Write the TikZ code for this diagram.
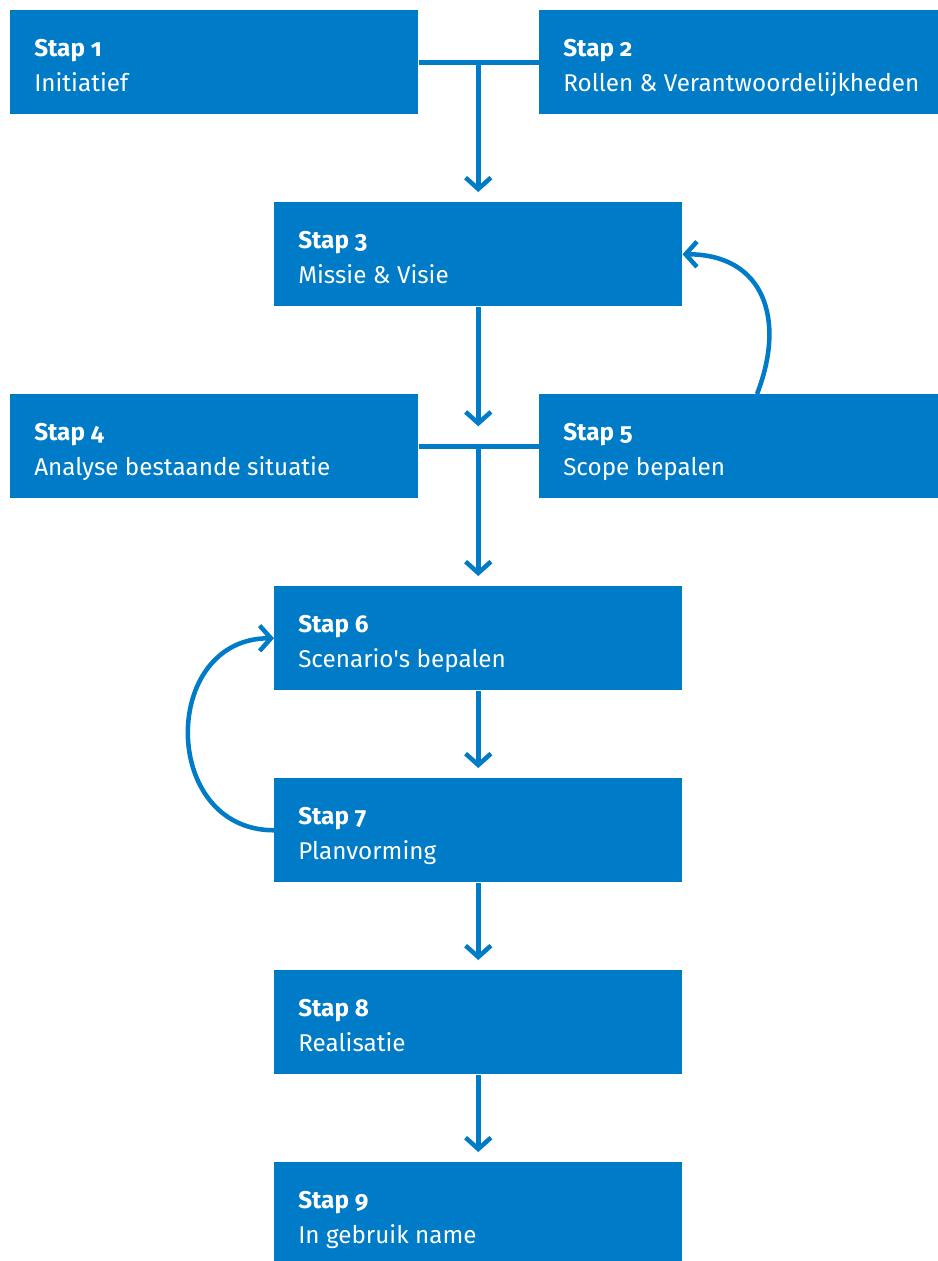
\documentclass[tikz,border=0pt]{standalone}
\usepackage{fontspec}
\setmainfont{Fira Sans}[Numbers=OldStyle]
\usetikzlibrary{arrows.meta,calc}
\definecolor{rijksblauw}{HTML}{007BC7}
\tikzset{
  stapbox/.style={fill=rijksblauw, anchor=north west, inner sep=0pt, minimum height=104*0.75pt},
  stapkop/.style={text=white, font=\fontsize{18.2}{22}\selectfont\bfseries, anchor=base west, inner sep=0pt},
  staptekst/.style={text=white, font=\fontsize{18.2}{22}\selectfont, anchor=base west, inner sep=0pt},
  lijn/.style={draw=rijksblauw, line width=3.4pt},
  pijl/.style={lijn, -{Straight Barb[length=8.5pt,width=19pt,sharp]}}
}
\begin{document}
\begin{tikzpicture}[x=0.75pt,y=-0.75pt]
\clip (0,0) rectangle (938,1261);
% de stappen
\foreach \n/\x/\y/\w/\t in {1/10/10/408/Initiatief,
  2/539/10/399/Rollen \& Verantwoordelijkheden,
  3/274/202/408/Missie \& Visie,
  4/10/394/408/Analyse bestaande situatie,
  5/539/394/399/Scope bepalen,
  6/274/586/408/Scenario\textquotesingle s bepalen,
  7/274/778/408/Planvorming,
  8/274/970/408/Realisatie,
  9/274/1162/408/In gebruik name} {
  \node[stapbox, minimum width=\w*0.75pt] (s\n) at (\x,\y) {};
  \node[stapkop] (k\n) at ([shift={(24,46)}]s\n.north west) {Stap \n};
  \node[staptekst] (t\n) at ([shift={(24,81)}]s\n.north west) {\t};
}
\coordinate (j12) at (s1.east -| s3.north);
\coordinate (j45) at (s4.east -| s3.north);
\coordinate (v5) at ([shift={(218,0)}]s5.north west);
% verbindingen
\draw[lijn] (s1.east) -- (s2.west);
\draw[pijl, shorten >=7.5pt] (j12) -- (s3.north);
\draw[pijl, shorten >=15pt] (s3.south) -- (j45);
\draw[lijn] (s4.east) -- (s5.west);
\draw[pijl, shorten >=7.5pt] (j45) -- (s6.north);
\draw[pijl, shorten >=7.5pt] (s6.south) -- (s7.north);
\draw[pijl, shorten >=7.5pt] (s7.south) -- (s8.north);
\draw[pijl, shorten >=7.5pt] (s8.south) -- (s9.north);
% terugkoppelingen
\draw[pijl] (v5) .. controls +(29,-74) and +(82,0) .. (s3.east);
\draw[pijl] (s7.west) .. controls +(-114,0) and +(-114,0) .. (s6.west);
\end{tikzpicture}
\end{document}
